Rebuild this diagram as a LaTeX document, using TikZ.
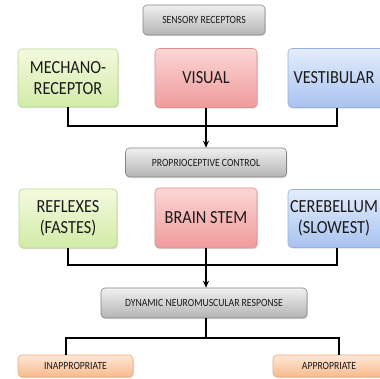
\documentclass[tikz,border=0pt]{standalone}
\usepackage{fontspec}
\setmainfont{Carlito}[FakeStretch=0.88]
\usetikzlibrary{arrows.meta,shadows}
\definecolor{gtop}{HTML}{F0F0F0}\definecolor{gbot}{HTML}{B4B4B4}\definecolor{gbrd}{HTML}{858585}
\definecolor{ltop}{HTML}{F3FADF}\definecolor{lbot}{HTML}{D2EBA6}\definecolor{lbrd}{HTML}{B9D890}
\definecolor{rtop}{HTML}{FCD6D6}\definecolor{rbot}{HTML}{F09A9A}\definecolor{rbrd}{HTML}{DE9090}
\definecolor{btop}{HTML}{E4EDFB}\definecolor{bbot}{HTML}{A8C3F0}\definecolor{bbrd}{HTML}{93B2E2}
\definecolor{otop}{HTML}{FEE8D8}\definecolor{obot}{HTML}{F8BA8A}\definecolor{obrd}{HTML}{E6AA7E}
\definecolor{txt}{HTML}{1A1A1A}
\tikzset{
  x=1pt,y=1pt,
  boxbase/.style={rectangle,rounded corners=4pt,line width=0.6pt,inner sep=1pt,align=center,
    text=txt,drop shadow={shadow xshift=0.8pt,shadow yshift=-1.2pt,opacity=0.25}},
  smalltxt/.style={font=\fontsize{11}{13}\selectfont},
  bigtxt/.style={font=\fontsize{18.5}{21.5}\selectfont},
  graybox/.style={boxbase,draw=gbrd,top color=gtop,bottom color=gbot,smalltxt},
  greenbox/.style={boxbase,draw=lbrd,top color=ltop,bottom color=lbot,bigtxt},
  redbox/.style={boxbase,draw=rbrd,top color=rtop,bottom color=rbot,bigtxt},
  bluebox/.style={boxbase,draw=bbrd,top color=btop,bottom color=bbot,bigtxt},
  orangebox/.style={boxbase,draw=obrd,top color=otop,bottom color=obot,smalltxt},
  conn/.style={draw=black,line width=1.4pt},
  arr/.style={conn,-{Stealth[length=7pt,width=6pt]}}
}
\begin{document}
\begin{tikzpicture}
\useasboundingbox (0,0) rectangle (380,379);
\fill[white] (0,0) rectangle (380,379);
% top tier
\node[graybox,minimum width=122,minimum height=30] (sens) at (204,359) {SENSORY RECEPTORS};
\node[greenbox,minimum width=100,minimum height=58] (mech) at (68,301) {MECHANO-\\RECEPTOR};
\node[redbox,minimum width=102,minimum height=59] (vis) at (206,301) {VISUAL};
\node[bluebox,minimum width=98,minimum height=59,text width=94] (vest) at (337,301) {\hspace*{-6pt}VESTIBULAR};
\node[graybox,minimum width=161,minimum height=29] (prop) at (206,216.5) {PROPRIOCEPTIVE CONTROL};
% second tier
\node[greenbox,minimum width=98,minimum height=59] (refl) at (68,160.5) {REFLEXES\\(FASTES)};
\node[redbox,minimum width=102,minimum height=60] (brain) at (206,161) {BRAIN STEM};
\node[bluebox,minimum width=98,minimum height=58,text width=94] (cere) at (337,160.5) {\hspace*{-6pt}CEREBELLUM\\\hspace*{-6pt}(SLOWEST)};
\node[graybox,minimum width=206,minimum height=30] (dyn) at (204,76) {DYNAMIC NEUROMUSCULAR RESPONSE};
% bottom tier
\node[orangebox,minimum width=115,minimum height=22] (inap) at (75.5,13) {INAPPROPRIATE};
\node[orangebox,minimum width=112,minimum height=22] (appr) at (329,13) {APPROPRIATE};
% connectors tier 1
\coordinate (j1) at (206,253);
\draw[conn] (mech.south) -- (mech.south |- j1) -- (vest.south |- j1) -- (vest.south);
\draw[conn] (vis.south) -- (j1);
\draw[arr] (j1) -- (j1 |- prop.north);
% connectors tier 2
\coordinate (j2) at (206,114);
\draw[conn] (refl.south) -- (refl.south |- j2) -- (cere.south |- j2) -- (cere.south);
\draw[conn] (brain.south) -- (j2);
\draw[arr] (j2) -- (j2 |- dyn.north);
% connectors tier 3
\coordinate (bl) at (66,41);
\coordinate (br) at (339,41);
\draw[conn] (dyn.south -| j2) -- (j2 |- bl);
\draw[conn] (inap.north -| bl) -- (bl) -- (br) -- (appr.north -| br);
\end{tikzpicture}
\end{document}
